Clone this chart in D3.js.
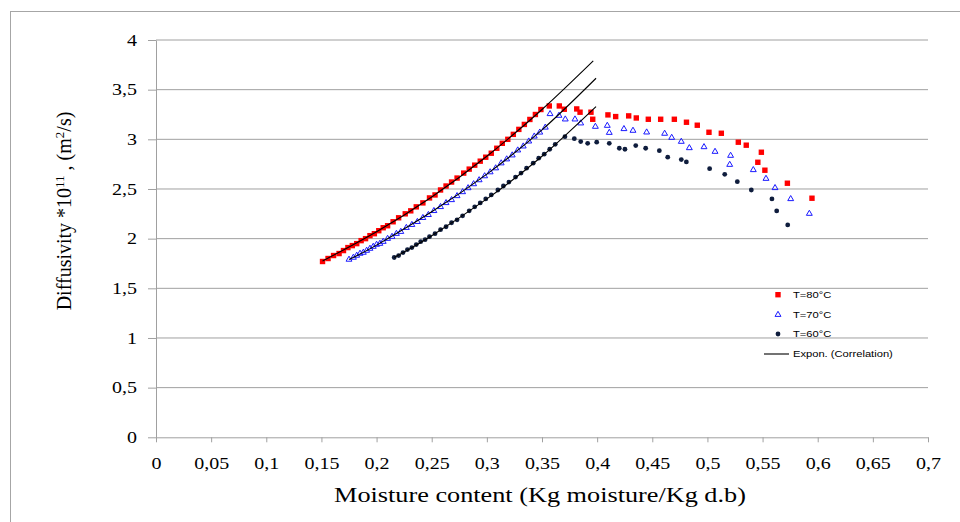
<!DOCTYPE html>
<html lang="en">
<head>
  <meta charset="UTF-8">
  <title>Diffusivity vs moisture content</title>
  <style>
    body { margin: 0; background: #fff; }
    #chart { width: 960px; height: 522px; }
    .serif { font-family: "Liberation Serif", "Times New Roman", serif; fill: #000; }
    .sans { font-family: "Liberation Sans", Arial, sans-serif; fill: #000; }
  </style>
</head>
<body>

<div id="chart"></div>

<script src="https://d3js.org/d3.v7.min.js"></script>
<script>

const width = 960;
const height = 522;

// axis ticks
const xTicks = [0, 0.05, 0.1, 0.15, 0.2, 0.25, 0.3, 0.35, 0.4, 0.45, 0.5, 0.55, 0.6, 0.65, 0.7];
const yTicks = [0, 0.5, 1, 1.5, 2, 2.5, 3, 3.5, 4];

// T=80°C measured points
const redX = [0.151, 0.156, 0.161, 0.166, 0.170, 0.174, 0.178, 0.182, 0.186, 0.190, 0.194, 0.198, 0.202, 0.206,
  0.210, 0.215, 0.220, 0.226, 0.231, 0.236, 0.242, 0.248, 0.253, 0.258, 0.263, 0.268, 0.273, 0.279, 0.284,
  0.289, 0.294, 0.299, 0.304, 0.309, 0.314, 0.319, 0.324, 0.329, 0.334, 0.339, 0.344, 0.349,
  0.3566, 0.3657, 0.3702, 0.3815, 0.3845, 0.3944, 0.396, 0.4098, 0.4168, 0.4286, 0.4355, 0.4464, 0.4576,
  0.470, 0.481, 0.4908, 0.5014, 0.5126, 0.528, 0.5352, 0.5489, 0.5457, 0.5521, 0.5725, 0.5948];
const redY = [1.77, 1.80, 1.83, 1.85, 1.88, 1.91, 1.93, 1.95, 1.98, 2.00, 2.03, 2.05, 2.08, 2.11,
  2.13, 2.17, 2.21, 2.25, 2.28, 2.32, 2.36, 2.41, 2.44, 2.49, 2.53, 2.57, 2.61, 2.66, 2.70,
  2.74, 2.78, 2.82, 2.86, 2.91, 2.96, 3.00, 3.05, 3.10, 3.15, 3.20, 3.25, 3.30,
  3.336, 3.336, 3.303, 3.306, 3.273, 3.273, 3.202, 3.246, 3.229, 3.236, 3.215, 3.202, 3.202,
  3.202, 3.172, 3.142, 3.071, 3.061, 2.971, 2.941, 2.870, 2.769, 2.689, 2.558, 2.407];

// T=70°C measured points
const blueX = [0.175, 0.179, 0.182, 0.185, 0.188, 0.191, 0.194, 0.197, 0.200, 0.203, 0.206, 0.210, 0.214,
  0.218, 0.222, 0.227, 0.232, 0.237, 0.242, 0.247, 0.252, 0.258, 0.263, 0.268, 0.273, 0.278, 0.283, 0.288,
  0.293, 0.298, 0.303, 0.308, 0.313, 0.318, 0.323, 0.328, 0.333, 0.338, 0.343, 0.348, 0.353,
  0.3573, 0.3654, 0.3711, 0.3799, 0.3851, 0.3984, 0.4092, 0.411, 0.4243, 0.4325, 0.4449, 0.4612, 0.4676,
  0.4763, 0.4836, 0.4969, 0.5069, 0.521, 0.5202, 0.5416, 0.5531, 0.5613, 0.5755, 0.5924];
const blueY = [1.79, 1.81, 1.83, 1.85, 1.86, 1.88, 1.90, 1.92, 1.94, 1.95, 1.97, 2.00, 2.02,
  2.05, 2.07, 2.11, 2.14, 2.17, 2.21, 2.24, 2.28, 2.32, 2.36, 2.39, 2.43, 2.47, 2.51, 2.55,
  2.59, 2.63, 2.67, 2.71, 2.76, 2.80, 2.84, 2.89, 2.93, 2.98, 3.03, 3.07, 3.12,
  3.256, 3.239, 3.202, 3.202, 3.162, 3.128, 3.138, 3.067, 3.105, 3.088, 3.071, 3.058, 3.017,
  2.977, 2.913, 2.923, 2.876, 2.836, 2.745, 2.692, 2.604, 2.511, 2.40, 2.252];

// T=60°C measured points
const darkX = [0.216, 0.220, 0.224, 0.228, 0.232, 0.236, 0.240, 0.244, 0.248, 0.253, 0.258, 0.263, 0.268,
  0.273, 0.278, 0.284, 0.289, 0.294, 0.299, 0.304, 0.310, 0.315, 0.320, 0.326, 0.331, 0.336, 0.342, 0.347,
  0.352, 0.357, 0.362,
  0.3708, 0.3793, 0.3851, 0.3914, 0.3996, 0.411, 0.4201, 0.4252, 0.435, 0.444, 0.4564, 0.464, 0.4763,
  0.4809, 0.502, 0.5157, 0.5271, 0.5398, 0.5585, 0.5628, 0.5728];
const darkY = [1.81, 1.83, 1.86, 1.89, 1.91, 1.94, 1.97, 1.99, 2.02, 2.05, 2.09, 2.12, 2.16,
  2.19, 2.23, 2.28, 2.32, 2.36, 2.40, 2.44, 2.49, 2.53, 2.57, 2.62, 2.66, 2.71, 2.76, 2.81,
  2.85, 2.90, 2.95,
  3.027, 3.007, 2.977, 2.960, 2.971, 2.960, 2.910, 2.900, 2.937, 2.910, 2.886, 2.82, 2.796,
  2.772, 2.705, 2.648, 2.574, 2.490, 2.40, 2.279, 2.138];

// exponential correlation curves
const redFitX = [0.151, 0.2, 0.25, 0.3, 0.35, 0.3965];
const redFitY = [1.775, 2.07, 2.42, 2.83, 3.30, 3.79];
const blueFitX = [0.175, 0.2, 0.25, 0.3, 0.35, 0.399];
const blueFitY = [1.79, 1.935, 2.27, 2.65, 3.095, 3.615];
const darkFitX = [0.216, 0.25, 0.3, 0.35, 0.399];
const darkFitY = [1.81, 2.03, 2.40, 2.83, 3.33];

const legendLabels = ["T=80°C", "T=70°C", "T=60°C", "Expon. (Correlation)"];

const sx = 1.25; // the source image is stretched sideways
const fmt = d => String(d).replace(".", ",");
const zip = (xs, ys) => xs.map((x, i) => [x, ys[i]]);

const x = d3.scaleLinear().domain([0, 0.7]).range([156, 928]);
const y = d3.scaleLinear().domain([0, 4]).range([437.3, 40]);

const svg = d3.select("#chart").append("svg")
  .attr("width", width)
  .attr("height", height);

svg.append("rect").attr("width", width).attr("height", height).attr("fill", "#fff");

// outer frame
svg.append("rect")
  .attr("x", 10.5).attr("y", 11.5)
  .attr("width", 970).attr("height", 530)
  .attr("fill", "none").attr("stroke", "#a6a6a6");

// gridlines
svg.append("g").selectAll("line")
  .data(yTicks.filter(d => d > 0))
  .enter().append("line")
  .attr("x1", x(0)).attr("x2", x(0.7))
  .attr("y1", d => y(d)).attr("y2", d => y(d))
  .attr("stroke", "#a0a0a0").attr("stroke-width", 1);

// axes
const xAxis = svg.append("g")
  .attr("transform", `translate(0,${y(0)})`)
  .call(d3.axisBottom(x).tickValues(xTicks).tickFormat(fmt).tickSizeInner(5).tickSizeOuter(0));
xAxis.selectAll("text")
  .attr("class", "serif")
  .attr("font-size", 16)
  .attr("y", 26).attr("dy", "0.35em")
  .attr("transform", `scale(${sx},1)`);

const yAxis = svg.append("g")
  .attr("transform", `translate(${x(0)},0)`)
  .call(d3.axisLeft(y).tickValues(yTicks).tickFormat(fmt).tickSizeInner(8).tickSizeOuter(0));
yAxis.selectAll("text")
  .attr("class", "serif")
  .attr("font-size", 16)
  .attr("x", -19 / sx)
  .attr("transform", `scale(${sx},1)`);

svg.selectAll(".domain, .tick line").attr("stroke", "#a0a0a0");
svg.selectAll(".tick text").attr("fill", "#000").attr("font-family", null);

// axis titles
svg.append("text")
  .attr("class", "serif")
  .attr("font-size", 21)
  .attr("text-anchor", "middle")
  .attr("transform", `translate(540,502) scale(${sx},1)`)
  .text("Moisture content (Kg moisture/Kg d.b)");

const yTitle = svg.append("text")
  .attr("class", "serif")
  .attr("font-size", 20)
  .attr("text-anchor", "middle")
  .attr("transform", "translate(71,211) rotate(-90)");
yTitle.append("tspan").text("Diffusivity *10");
yTitle.append("tspan").attr("font-size", 13).attr("baseline-shift", "super").text("11");
yTitle.append("tspan").text(" , (m");
yTitle.append("tspan").attr("font-size", 13).attr("baseline-shift", "super").text("2");
yTitle.append("tspan").text("/s)");

// markers
const redColor = "#ff0000";
const blueColor = "#1a1aff";
const darkColor = "#0f1d3d";

const tri = d3.symbol().type(d3.symbolTriangle).size(15);

svg.append("g").selectAll("rect")
  .data(zip(redX, redY))
  .enter().append("rect")
  .attr("x", d => x(d[0]) - 2.7).attr("y", d => y(d[1]) - 2.7)
  .attr("width", 5.4).attr("height", 5.4)
  .attr("fill", redColor);

svg.append("g").selectAll("path")
  .data(zip(blueX, blueY))
  .enter().append("path")
  .attr("d", tri)
  .attr("transform", d => `translate(${x(d[0])},${y(d[1])})`)
  .attr("fill", "none").attr("stroke", blueColor).attr("stroke-width", 1);

svg.append("g").selectAll("circle")
  .data(zip(darkX, darkY))
  .enter().append("circle")
  .attr("cx", d => x(d[0])).attr("cy", d => y(d[1]))
  .attr("r", 2.4)
  .attr("fill", darkColor);

// correlation lines
const line = d3.line()
  .x(d => x(d[0]))
  .y(d => y(d[1]))
  .curve(d3.curveNatural);

[zip(redFitX, redFitY), zip(blueFitX, blueFitY), zip(darkFitX, darkFitY)].forEach(pts => {
  svg.append("path")
    .attr("d", line(pts))
    .attr("fill", "none")
    .attr("stroke", "#000")
    .attr("stroke-width", 1.1);
});

// legend
const lgX = 778;
const lgY = [294.7, 314.7, 334, 354];

const lg = svg.append("g");
lg.append("rect").attr("x", lgX - 2.7).attr("y", lgY[0] - 2.7).attr("width", 5.4).attr("height", 5.4).attr("fill", redColor);
lg.append("path").attr("d", tri).attr("transform", `translate(${lgX},${lgY[1]})`)
  .attr("fill", "none").attr("stroke", blueColor);
lg.append("circle").attr("cx", lgX).attr("cy", lgY[2]).attr("r", 2.4).attr("fill", darkColor);
lg.append("line").attr("x1", 764).attr("x2", 789).attr("y1", lgY[3]).attr("y2", lgY[3])
  .attr("stroke", "#000").attr("stroke-width", 1.1);

lg.selectAll("text")
  .data(legendLabels)
  .enter().append("text")
  .attr("class", "sans")
  .attr("font-size", 9.3)
  .attr("dy", "0.35em")
  .attr("transform", (d, i) => `translate(793,${lgY[i]}) scale(1.2,1)`)
  .text(d => d);

</script>

</body>
</html>
